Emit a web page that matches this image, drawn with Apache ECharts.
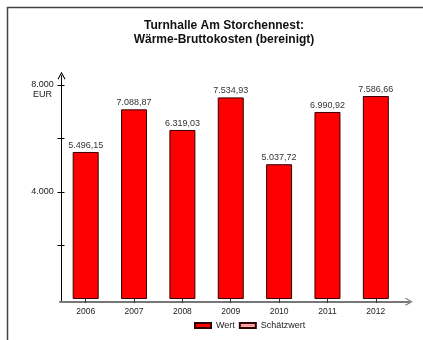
<!DOCTYPE html>
<html>
<head>
<meta charset="utf-8">
<script src="https://cdn.jsdelivr.net/npm/echarts@6/dist/echarts.min.js"></script>
<style>html,body{margin:0;padding:0;background:#fff}#c{width:423px;height:340px}</style>
</head>
<body>
<div id="c"></div>
<script>
const categories = ['2006','2007','2008','2009','2010','2011','2012'];
const wertValues = [5496.15, 7088.87, 6319.03, 7534.93, 5037.72, 6990.92, 7586.66];
const schaetzValues = [];
const yTickValues = [2000, 4000, 6000, 8000];
const yLabelValues = [4000, 8000];
const titleLines = ['Turnhalle Am Storchennest:', 'Wärme-Bruttokosten (bereinigt)'];

function fmtDE(v, dec) {
  const neg = v < 0; v = Math.abs(v);
  let s = v.toFixed(dec);
  let [i, f] = s.split('.');
  i = i.replace(/\B(?=(\d{3})+(?!\d))/g, '.');
  return (neg ? '-' : '') + i + (f ? ',' + f : '');
}

const FONT = '"Liberation Sans", Arial, sans-serif';
const chevronUp = 'path://M0,9 L5,0 L10,9 L8.8,9.6 L5,2.6 L1.2,9.6 Z';
const yMin = -100, yMax = 8350;

const chart = echarts.init(document.getElementById('c'), null, {renderer: 'canvas'});
chart.setOption({
  animation: false,
  backgroundColor: '#fff',
  textStyle: {fontFamily: FONT},
  title: {
    text: titleLines.join('\n'),
    left: 219,
    top: 14,
    textAlign: 'center',
    textStyle: {fontFamily: FONT, fontSize: 12, fontWeight: 'bold', color: '#111', lineHeight: 14}
  },
  graphic: [{
    type: 'rect', z: -1,
    shape: {x: 7.5, y: 7.5, width: 600, height: 600},
    style: {fill: 'none', stroke: '#444', lineWidth: 1.5}
  }],
  legend: {
    left: 189, top: 316,
    itemWidth: 16, itemHeight: 5, itemGap: 4,
    icon: 'rect',
    textStyle: {fontFamily: FONT, fontSize: 9, color: '#222'},
    data: ['Wert', 'Schätzwert']
  },
  grid: [
    {left: 61.5, right: 23, top: 75.6, bottom: 38.3},
    {left: 60, right: 14, top: 75.6, bottom: 38.3}
  ],
  xAxis: [{
    type: 'category', gridIndex: 0, data: categories,
    axisLine: {show: false},
    axisTick: {show: true, alignWithLabel: true, length: 4, lineStyle: {color: '#333'}},
    axisLabel: {fontFamily: FONT, fontSize: 8.5, color: '#222', margin: 5},
    splitLine: {show: false}
  }, {
    type: 'value', gridIndex: 1, min: 0, max: 1, position: 'bottom',
    axisLine: {show: true, lineStyle: {color: '#777', width: 2}, symbol: ['none', chevronUp], symbolSize: [8, 8]},
    axisTick: {show: false}, axisLabel: {show: false}, splitLine: {show: false}
  }],
  yAxis: [{
    type: 'value', gridIndex: 0, min: yMin, max: yMax,
    axisLine: {show: true, lineStyle: {color: '#000', width: 1}, symbol: ['none', chevronUp], symbolSize: [8, 8]},
    axisTick: {show: true, length: 4, lineStyle: {color: '#000'}, customValues: yTickValues},
    axisLabel: {
      show: true, fontFamily: FONT, fontSize: 9, color: '#222', margin: 19, align: 'center',
      customValues: yLabelValues, lineHeight: 10,
      formatter: v => v === 8000 ? '\n' + fmtDE(v, 0) + '\nEUR' : fmtDE(v, 0)
    },
    splitLine: {show: false}
  }, {
    type: 'value', gridIndex: 0, min: yMin, max: yMax, position: 'left',
    axisLine: {show: false},
    axisTick: {show: true, inside: true, length: 3, lineStyle: {color: '#000'}, customValues: yTickValues},
    axisLabel: {show: false}, splitLine: {show: false}
  }, {
    type: 'value', gridIndex: 1, show: false, min: 0, max: 1
  }],
  series: [{
    name: 'Wert', type: 'bar', xAxisIndex: 0, yAxisIndex: 0, stack: 's',
    data: wertValues, barWidth: 26,
    itemStyle: {color: '#ff0000', borderColor: '#300', borderWidth: 1},
    label: {
      show: true, position: 'top', distance: 2,
      fontFamily: FONT, fontSize: 9, color: '#333',
      formatter: p => fmtDE(p.value, 2)
    }
  }, {
    name: 'Schätzwert', type: 'bar', xAxisIndex: 0, yAxisIndex: 0, stack: 's',
    data: schaetzValues, barWidth: 26,
    itemStyle: {
      color: {type: 'linear', x: 0, y: 0, x2: 0, y2: 1, colorStops: [
        {offset: 0, color: '#ffffff'}, {offset: 0.5, color: '#ff9090'}, {offset: 1, color: '#ffffff'}]},
      borderColor: '#300', borderWidth: 1
    }
  }]
});
</script>
</body>
</html>
